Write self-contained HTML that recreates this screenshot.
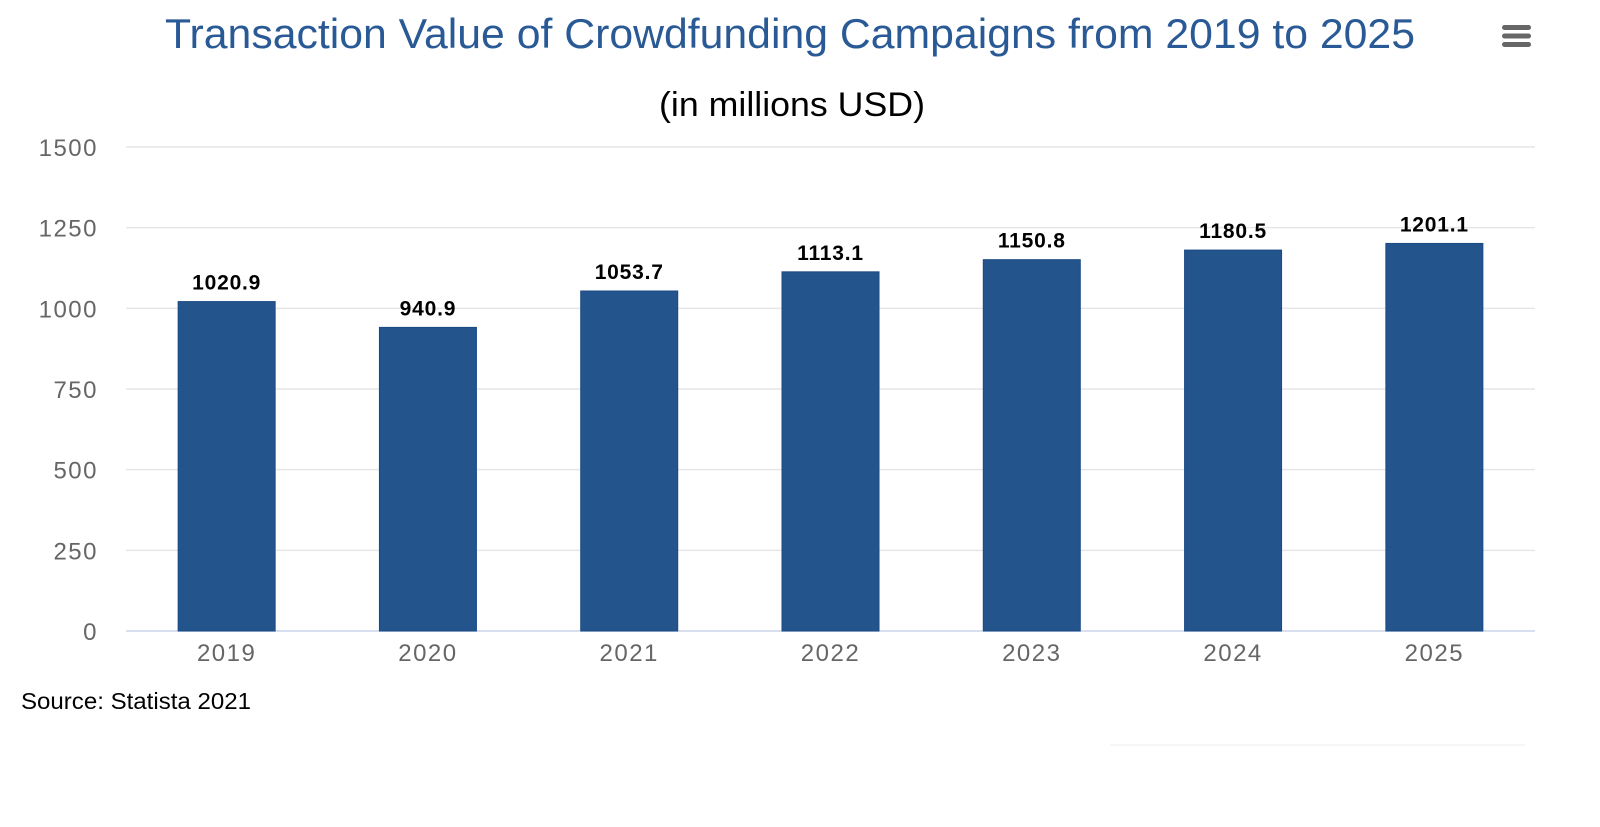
<!DOCTYPE html>
<html><head><meta charset="utf-8"><style>
html,body{margin:0;padding:0;background:#fff;width:1600px;height:827px;overflow:hidden}
svg{display:block}
</style></head><body>
<svg id="chart" width="1600" height="827" xmlns="http://www.w3.org/2000/svg">
<text x="790" y="48" text-anchor="middle" font-family="Liberation Sans, sans-serif" font-size="42" fill="#2a5a96" textLength="1250" lengthAdjust="spacingAndGlyphs">Transaction Value of Crowdfunding Campaigns from 2019 to 2025</text>
<text x="792" y="116" text-anchor="middle" font-family="Liberation Sans, sans-serif" font-size="34" fill="#000" textLength="266" lengthAdjust="spacingAndGlyphs">(in millions USD)</text>
<g>
<rect x="1502" y="25" width="29" height="5" rx="2.5" fill="#666"/>
<rect x="1502" y="33.5" width="29" height="5" rx="2.5" fill="#666"/>
<rect x="1502" y="42" width="29" height="5" rx="2.5" fill="#666"/>
</g>
<g id="grid"></g><g id="bars"></g><g id="labels"></g>
<text x="21" y="709" font-family="Liberation Sans, sans-serif" font-size="23" fill="#000" textLength="230" lengthAdjust="spacingAndGlyphs">Source: Statista 2021</text>
<line x1="1110" y1="745" x2="1525" y2="745" stroke="#eee" stroke-width="1"/>
</svg>
<script>
const categories = ["2019","2020","2021","2022","2023","2024","2025"];
const values = [1020.9, 940.9, 1053.7, 1113.1, 1150.8, 1180.5, 1201.1];
const valueLabels = ["1020.9","940.9","1053.7","1113.1","1150.8","1180.5","1201.1"];
const yTicks = [0, 250, 500, 750, 1000, 1250, 1500];

const NS = "http://www.w3.org/2000/svg";
const L = 126, R = 1535, T = 147, B = 631, yMax = 1500;
const y = v => B - (v / yMax) * (B - T);
const step = (R - L) / categories.length;
const xc = i => L + step * (i + 0.5);
const bw = 97;
function mk(tag, attrs, parent) { const e = document.createElementNS(NS, tag); for (const k in attrs) e.setAttribute(k, attrs[k]); parent.appendChild(e); return e; }
const grid = document.getElementById('grid'), bars = document.getElementById('bars'), labels = document.getElementById('labels');
yTicks.forEach(t => {
  const ln = mk('line', {x1: L, x2: R, y1: y(t), y2: y(t), stroke: t === 0 ? '#ccd6eb' : '#e6e6e6', 'stroke-width': 1.5}, grid);
  
  
  const tx = mk('text', {x: 98, y: y(t) + 9, 'text-anchor': 'end', 'font-family': 'Liberation Sans, sans-serif', 'font-size': 24, 'letter-spacing': 1.5, fill: '#666'}, grid);
  tx.textContent = t;
  
  
});
categories.forEach((c, i) => {
  const r = mk('rect', {x: xc(i) - bw / 2, y: y(values[i]), width: bw, height: B - y(values[i]), fill: '#23548b', stroke: '#1a4a85', 'stroke-width': 1}, bars);
  
  
  const v = mk('text', {x: xc(i), y: y(values[i]) - 12, 'text-anchor': 'middle', 'font-family': 'Liberation Sans, sans-serif', 'font-size': 21, 'font-weight': 'bold', 'letter-spacing': 0.8, fill: '#000'}, labels);
  v.textContent = valueLabels[i];
  
  
  const xl = mk('text', {x: xc(i), y: B + 30, 'text-anchor': 'middle', 'font-family': 'Liberation Sans, sans-serif', 'font-size': 24, 'letter-spacing': 1.5, fill: '#666'}, labels);
  xl.textContent = c;
  
  
});
</script>
</body></html>
